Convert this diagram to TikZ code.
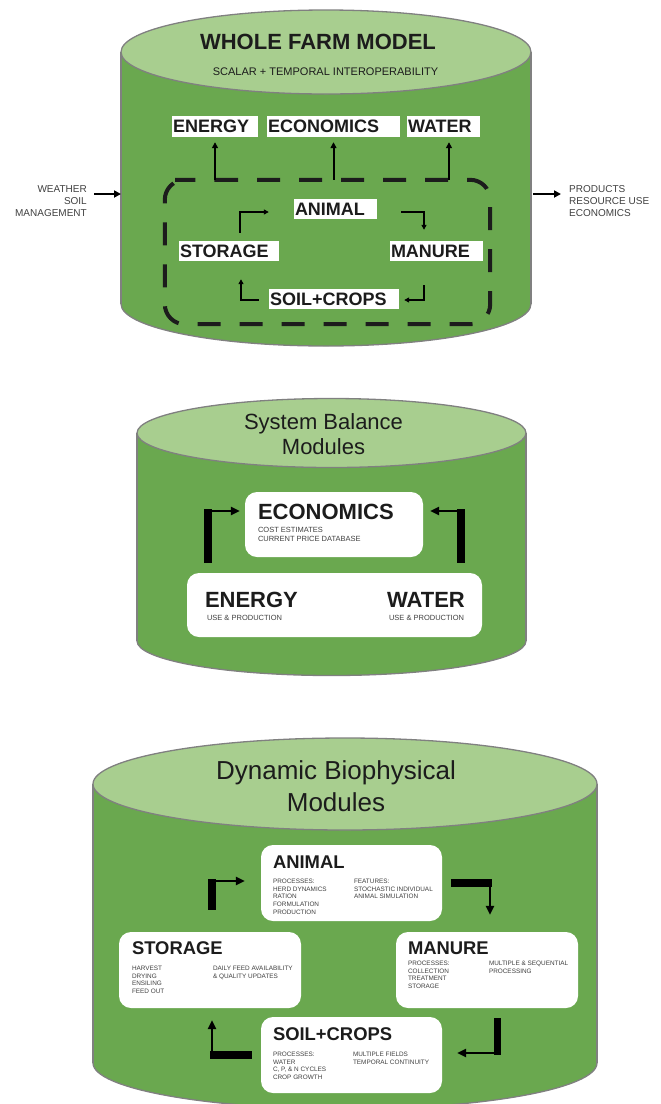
\documentclass[tikz,border=0pt]{standalone}
\usepackage{fontspec}
\setmainfont{Liberation Sans}
\usetikzlibrary{arrows.meta,positioning,calc}

\definecolor{drumgreen}{RGB}{106,168,79}
\definecolor{lidgreen}{RGB}{168,206,143}
\definecolor{rimgray}{RGB}{128,128,128}
\definecolor{inkdark}{RGB}{28,28,28}
\definecolor{inksoft}{RGB}{64,64,64}

% cylinder: centre x, lid y, base y, x radius, y radius
\newcommand{\farmdrum}[5]{%
  \fill[drumgreen,draw=rimgray,line width=1.3pt] (#1,#3) ellipse [x radius=#4,y radius=#5];
  \fill[drumgreen] (#1-#4,#2) rectangle (#1+#4,#3);
  \draw[rimgray,line width=1.3pt] (#1-#4,#2) -- (#1-#4,#3) (#1+#4,#2) -- (#1+#4,#3);
  \fill[lidgreen,draw=rimgray,line width=1.3pt] (#1,#2) ellipse [x radius=#4,y radius=#5];
}

\begin{document}
\begin{tikzpicture}[x=1pt,y=-1pt,
    wfmtag/.style={fill=white,inner sep=1pt,minimum height=21pt,align=left,text=inkdark,font=\fontsize{18}{18}\selectfont\bfseries},
    modbox/.style={fill=white,rounded corners=12pt,inner sep=0pt},
    modhead/.style={anchor=west,inner sep=0pt,text=inkdark,font=\fontsize{18.4}{18.4}\selectfont\bfseries},
    modnote/.style={anchor=north west,inner sep=0pt,align=left,text=inksoft,font=\fontsize{6.4}{7.7}\selectfont},
    sidenote/.style={inner sep=0pt,text=inksoft,font=\fontsize{10}{12}\selectfont},
    sideflow/.style={line width=2pt,-{Triangle[length=7pt,width=7pt]}},
    upflow/.style={line width=2pt,-{Triangle[length=6pt,width=6pt]}},
    cycleflow/.style={line width=1.6pt,-{Triangle[length=5pt,width=5pt]}},
    dashframe/.style={draw=inkdark,line width=4pt,dash pattern=on 23pt off 19pt,rounded corners=20pt},
    thickleg/.style={line width=7.5pt,shorten >=-2pt},
    thinleg/.style={line width=2.5pt,-{Triangle[length=9pt,width=8pt]}}]
\useasboundingbox (0,0) rectangle (661,1104);
\clip (0,0) rectangle (661,1104);

% whole farm model
\farmdrum{326}{52}{304}{205}{42}
\node[font=\fontsize{22}{22}\selectfont\bfseries,text=inkdark] (wfm-title) at (318,42) {WHOLE FARM MODEL};
\node[font=\fontsize{11}{11}\selectfont,text=inkdark] (wfm-sub) at (325.5,72) {SCALAR + TEMPORAL INTEROPERABILITY};
\node[wfmtag,text width=84pt] (energy) at (215,126.5) {ENERGY};
\node[wfmtag,text width=131pt] (economics) at (333.5,126.5) {ECONOMICS};
\node[wfmtag,text width=71pt] (water) at (443.5,126.5) {WATER};
\node[minimum width=325pt,minimum height=144pt,inner sep=0pt] (core) at (327.5,252) {};
\draw[dashframe] ([xshift=-20pt]core.north -| energy.south) -- (core.north east) -- (core.south east)
  -- (core.south west) -- (core.north west) -- cycle;
\node[wfmtag,text width=81pt,minimum height=20pt] (animal) at (335.5,209) {ANIMAL};
\node[wfmtag,text width=98pt,minimum height=20pt] (storage) at (229,251) {STORAGE};
\node[wfmtag,text width=91pt,minimum height=20pt] (manure) at (436.5,251) {MANURE};
\node[wfmtag,text width=128pt,minimum height=20pt] (soil) at (334,299) {SOIL+CROPS};

\coordinate (water-foot) at ($(water.south)+(5.5,0)$);
\draw[upflow] (core.north -| energy.south) -- ([yshift=-5pt]energy.south);
\draw[upflow] (core.north -| economics.south) -- ([yshift=-5pt]economics.south);
\draw[upflow] (core.north -| water-foot) -- ([yshift=-5pt]water-foot);

\draw[cycleflow] ([shift={(11,-8)}]storage.north) |- ([shift={(-25,3)}]animal.west);
\draw[cycleflow] ([shift={(24,3)}]animal.east) -| ([shift={(-12.5,-11)}]manure.north);
\draw[cycleflow] ([shift={(-12.5,24)}]manure.south) |- ([shift={(5,1)}]soil.east);
\draw[cycleflow] ([shift={(-10,1)}]soil.west) -| ([shift={(12,18)}]storage.south);

\node[sidenote,anchor=east,align=right] (drivers) at (87,201) {WEATHER\\SOIL\\MANAGEMENT};
\node[sidenote,anchor=west,align=left] (outputs) at (569,201) {PRODUCTS\\RESOURCE USE\\ECONOMICS};
\coordinate (wfm-in) at (121,194);
\coordinate (wfm-out) at (533,194);
\draw[sideflow] ([shift={(7,-7)}]drivers.east) -- (wfm-in);
\draw[sideflow] (wfm-out) -- ([shift={(-8,-7)}]outputs.west);

% system balance modules
\farmdrum{331.5}{433}{641}{194.5}{34.5}
\node[align=center,text=inkdark,font=\fontsize{22}{25}\selectfont] (sb-title) at (323.5,434.5) {System Balance\\Modules};
\node[modbox,minimum width=178pt,minimum height=65pt] (sb-econ) at (334,524.5) {};
\node[modbox,minimum width=295pt,minimum height=64pt] (sb-base) at (334.5,605) {};
\node[modhead,font=\fontsize{22}{22}\selectfont\bfseries] (sb-econ-t) at ([shift={(13,20.5)}]sb-econ.north west) {ECONOMICS};
\node[modnote,font=\fontsize{7.5}{9}\selectfont] (sb-econ-n) at ([shift={(13,35.5)}]sb-econ.north west) {COST ESTIMATES\\CURRENT PRICE DATABASE};
\node[modhead,font=\fontsize{22}{22}\selectfont\bfseries] (sb-energy-t) at ([shift={(18,27.5)}]sb-base.north west) {ENERGY};
\node[modnote,font=\fontsize{7.5}{9}\selectfont] (sb-energy-n) at ([shift={(20,42.5)}]sb-base.north west) {USE \& PRODUCTION};
\node[modhead,font=\fontsize{22}{22}\selectfont\bfseries] (sb-water-t) at ([shift={(200,27.5)}]sb-base.north west) {WATER};
\node[modnote,font=\fontsize{7.5}{9}\selectfont] (sb-water-n) at ([shift={(202,42.5)}]sb-base.north west) {USE \& PRODUCTION};

\coordinate (sb-l0) at ([shift={(21,-10)}]sb-base.north west);
\coordinate (sb-l1) at ([shift={(-5,-13.5)}]sb-econ.west);
\coordinate (sb-r0) at ([shift={(-21,-10)}]sb-base.north east);
\coordinate (sb-r1) at ([shift={(7,-13.5)}]sb-econ.east);
\draw[thickleg] (sb-l0) -- (sb-l0 |- sb-l1);
\draw[thinleg] (sb-l0 |- sb-l1) -- (sb-l1);
\draw[thickleg] (sb-r0) -- (sb-r0 |- sb-r1);
\draw[thinleg] (sb-r0 |- sb-r1) -- (sb-r1);

% dynamic biophysical modules
\farmdrum{345}{784}{1063}{252}{46}
\node[align=center,text=inkdark,font=\fontsize{26}{31.5}\selectfont] (bp-title) at (336,786.3) {Dynamic Biophysical\\Modules};
\node[modbox,minimum width=181pt,minimum height=76pt] (bp-animal) at (351.5,883) {};
\node[modbox,minimum width=182pt,minimum height=76pt] (bp-storage) at (210,970) {};
\node[modbox,minimum width=182pt,minimum height=76pt] (bp-manure) at (487,970) {};
\node[modbox,minimum width=181pt,minimum height=76pt] (bp-soil) at (351.5,1055) {};

\node[modhead] (bp-animal-t) at ([shift={(12,17.5)}]bp-animal.north west) {ANIMAL};
\node[modnote] (bp-animal-a) at ([shift={(12,34)}]bp-animal.north west) {PROCESSES:\\HERD DYNAMICS\\RATION\\FORMULATION\\PRODUCTION};
\node[modnote] (bp-animal-b) at ([shift={(93,34)}]bp-animal.north west) {FEATURES:\\STOCHASTIC INDIVIDUAL\\ANIMAL SIMULATION};
\node[modhead] (bp-storage-t) at ([shift={(13,16.3)}]bp-storage.north west) {STORAGE};
\node[modnote] (bp-storage-a) at ([shift={(13,34)}]bp-storage.north west) {HARVEST\\DRYING\\ENSILING\\FEED OUT};
\node[modnote] (bp-storage-b) at ([shift={(94,34)}]bp-storage.north west) {DAILY FEED AVAILABILITY\\\& QUALITY UPDATES};
\node[modhead] (bp-manure-t) at ([shift={(12,16.3)}]bp-manure.north west) {MANURE};
\node[modnote] (bp-manure-a) at ([shift={(12,29)}]bp-manure.north west) {PROCESSES:\\COLLECTION\\TREATMENT\\STORAGE};
\node[modnote] (bp-manure-b) at ([shift={(93,29)}]bp-manure.north west) {MULTIPLE \& SEQUENTIAL\\PROCESSING};
\node[modhead] (bp-soil-t) at ([shift={(12,17)}]bp-soil.north west) {SOIL+CROPS};
\node[modnote] (bp-soil-a) at ([shift={(12,35)}]bp-soil.north west) {PROCESSES:\\WATER\\C, P, \& N CYCLES\\CROP GROWTH};
\node[modnote] (bp-soil-b) at ([shift={(92,35)}]bp-soil.north west) {MULTIPLE FIELDS\\TEMPORAL CONTINUITY};

\coordinate (bp-1a) at ([shift={(2,-22)}]bp-storage.north);
\coordinate (bp-1b) at ([shift={(-16,-2)}]bp-animal.west);
\coordinate (bp-2a) at ([shift={(9,0)}]bp-animal.east);
\coordinate (bp-2b) at ([shift={(3,-17)}]bp-manure.north);
\coordinate (bp-3a) at ([shift={(10.5,10)}]bp-manure.south);
\coordinate (bp-3b) at ([shift={(15,-2)}]bp-soil.east);
\coordinate (bp-4a) at ([shift={(-9,0)}]bp-soil.west);
\coordinate (bp-4b) at ([shift={(2,12)}]bp-storage.south);
\draw[thickleg] (bp-1a) -- (bp-1a |- bp-1b);
\draw[thinleg] (bp-1a |- bp-1b) -- (bp-1b);
\draw[thickleg] (bp-2a) -- (bp-2a -| bp-2b);
\draw[thinleg] (bp-2a -| bp-2b) -- (bp-2b);
\draw[thickleg] (bp-3a) -- (bp-3a |- bp-3b);
\draw[thinleg] (bp-3a |- bp-3b) -- (bp-3b);
\draw[thickleg] (bp-4a) -- (bp-4a -| bp-4b);
\draw[thinleg] (bp-4a -| bp-4b) -- (bp-4b);
\end{tikzpicture}
\end{document}
